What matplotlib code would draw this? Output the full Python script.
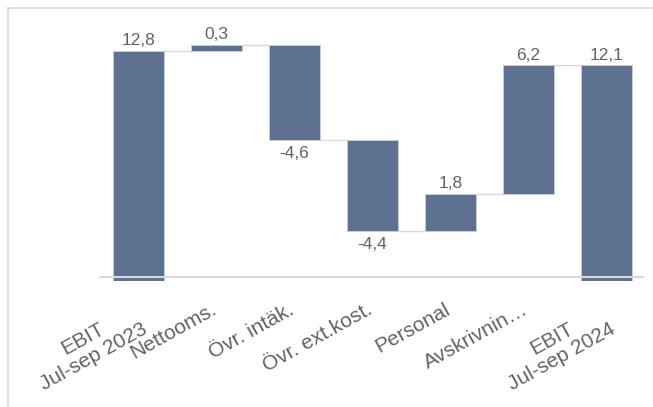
import matplotlib
matplotlib.use("Agg")
import matplotlib.pyplot as plt
import matplotlib.transforms as mtransforms
from matplotlib.lines import Line2D

categories = ["EBIT\nJul-sep 2023", "Nettooms.", "Övr. intäk.", "Övr. ext.kost.",
              "Personal", "Avskrivnin…", "EBIT\nJul-sep 2024"]
values = [12.8, 0.3, -4.6, -4.4, 1.8, 6.2, 12.1]
is_total = [True, False, False, False, False, False, True]
labels = ["12,8", "0,3", "-4,6", "-4,4", "1,8", "6,2", "12,1"]

plt.rcParams['font.family'] = ['Liberation Sans', 'DejaVu Sans']
fig = plt.figure(figsize=(6.53, 4.07), dpi=100)
W, H = 653, 407
ax_l, ax_r, ax_t, ax_b = 99, 644, 10, 281
ax = fig.add_axes([ax_l / W, 1 - ax_b / H, (ax_r - ax_l) / W, (ax_b - ax_t) / H])

bar_color = "#5f7191"
text_color = "#636363"
width = 0.65

bottoms, tops, levels = [], [], []
running = 0.0
for v, tot in zip(values, is_total):
    if tot:
        b, t = 0.0, v
        running = v
    else:
        b, t = running, running + v
        running = running + v
    bottoms.append(min(b, t))
    tops.append(max(b, t))
    levels.append(running)

x = list(range(len(categories)))
heights = [t - b for b, t in zip(bottoms, tops)]
ax.bar(x, heights, bottom=bottoms, width=width, color=bar_color,
       edgecolor="#c9d0dc", linewidth=0.6, zorder=3)

# connectors
for i in range(len(x) - 1):
    ax.plot([x[i] + width / 2, x[i + 1] - width / 2], [levels[i], levels[i]],
            color="#d9d9d9", lw=1.0, zorder=2)

# value labels
for i, v in enumerate(values):
    if v >= 0:
        ax.annotate(labels[i], (x[i], tops[i]), xytext=(0, 2), textcoords="offset points",
                    ha="center", va="bottom", fontsize=12.5, color=text_color)
    else:
        ax.annotate(labels[i], (x[i], bottoms[i]), xytext=(0, -4), textcoords="offset points",
                    ha="center", va="top", fontsize=12.5, color=text_color)

ax.set_xlim(-0.506, 6.48)
ax.set_ylim(1.69, 14.78)
for s in ax.spines.values():
    s.set_visible(False)
ax.set_yticks([])
ax.set_xticks([])
ax.axhline(1.88, color="#d9d9d9", lw=1.5, zorder=4)

# category labels (rotated)
base = ax.get_xaxis_transform()
for i, cat in enumerate(categories):
    if "\n" in cat:
        dx, dy = 9, -50
    else:
        dx, dy = 1, -32
    tr = base + mtransforms.ScaledTranslation(dx / 100, dy / 100, fig.dpi_scale_trans)
    ax.text(x[i], 0, cat, transform=tr, rotation=29, rotation_mode="anchor",
            ha="right", va="baseline", multialignment="center",
            fontsize=15, color=text_color, linespacing=1.1)

# outer frame
fig.add_artist(Line2D([8 / W, 1], [1 - 8 / H, 1 - 8 / H], color="#d9d9d9", lw=1.2))
fig.add_artist(Line2D([8 / W, 8 / W], [1 - 8 / H, 0], color="#d9d9d9", lw=1.2))

fig.savefig("out.png", dpi=100)
